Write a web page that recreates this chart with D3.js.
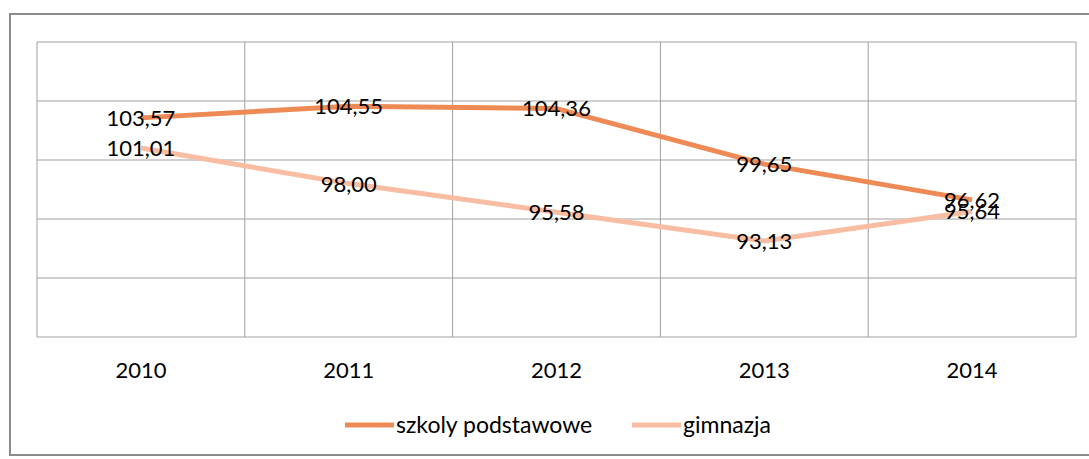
<!DOCTYPE html>
<html>
<head>
<meta charset="utf-8">
<script src="https://cdn.jsdelivr.net/npm/d3@7"></script>
<style>
  body { margin: 0; background: #fff; }
  svg { display: block; font-family: Lato, "Open Sans", sans-serif; }
</style>
</head>
<body>
<svg class="chart"></svg>
<script>
// values
const years = ['2010', '2011', '2012', '2013', '2014']
const szkolyPodstawowe = [103.57, 104.55, 104.36, 99.65, 96.62]
const gimnazja = [101.01, 98.00, 95.58, 93.13, 95.64]
const seriesNames = ['szkoly podstawowe', 'gimnazja']
const yTicks = [85, 90, 95, 100, 105, 110]

const W = 1089, H = 459
const plot = { left: 37, right: 1076, top: 42, bottom: 337 }
const colors = ['#ee8a55', '#f8bda2']

const svg = d3.select('svg.chart').attr('width', W).attr('height', H)

// outer chart frame
svg.append('rect')
    .attr('x', 10).attr('y', 14)
    .attr('width', W).attr('height', 441)
    .attr('fill', 'none')
    .attr('stroke', '#8c8c8c')
    .attr('stroke-width', 2)

const x = d3.scaleBand().domain(years).range([plot.left, plot.right])
const y = d3.scaleLinear().domain([85, 110]).range([plot.bottom, plot.top])

// horizontal grid
svg.append('g')
    .selectAll('line')
    .data(yTicks)
    .join('line')
    .attr('x1', plot.left).attr('x2', plot.right)
    .attr('y1', d => y(d)).attr('y2', d => y(d))
    .attr('stroke', '#a0a0a0')
    .attr('stroke-width', 1)

// vertical grid at category boundaries
const bounds = years.map(d => x(d)).concat([plot.right])
svg.append('g')
    .selectAll('line')
    .data(bounds)
    .join('line')
    .attr('x1', d => d).attr('x2', d => d)
    .attr('y1', plot.top).attr('y2', plot.bottom)
    .attr('stroke', '#a0a0a0')
    .attr('stroke-width', 1)

// category labels
svg.append('g')
    .selectAll('text')
    .data(years)
    .join('text')
    .attr('x', d => x(d) + x.bandwidth() / 2)
    .attr('y', 378)
    .attr('text-anchor', 'middle')
    .attr('font-size', 22)
    .attr('fill', '#000')
    .text(d => d)

const line = d3.line()
    .x((d, i) => x(years[i]) + x.bandwidth() / 2)
    .y(d => y(d))

const series = [szkolyPodstawowe, gimnazja]

// draw the light series first so the dark one sits on top
series.slice().reverse().forEach((vals, k) => {
    const idx = series.length - 1 - k
    svg.append('path')
        .datum(vals)
        .attr('fill', 'none')
        .attr('stroke', colors[idx])
        .attr('stroke-width', 5)
        .attr('stroke-linejoin', 'round')
        .attr('d', line)
})

const fmt = v => d3.format('.2f')(v).replace('.', ',')

series.forEach(vals => {
    svg.append('g')
        .selectAll('text')
        .data(vals)
        .join('text')
        .attr('x', (d, i) => x(years[i]) + x.bandwidth() / 2)
        .attr('y', d => y(d))
        .attr('dy', '0.36em')
        .attr('text-anchor', 'middle')
        .attr('font-size', 22)
        .attr('fill', '#000')
        .text(fmt)
})

// legend
const legendItems = [
    { name: seriesNames[0], x0: 345 },
    { name: seriesNames[1], x0: 632 }
]
const lg = svg.append('g')
legendItems.forEach((it, i) => {
    lg.append('line')
        .attr('x1', it.x0).attr('x2', it.x0 + 49)
        .attr('y1', 425).attr('y2', 425)
        .attr('stroke', colors[i])
        .attr('stroke-width', 5)
    lg.append('text')
        .attr('x', it.x0 + 51)
        .attr('y', 425)
        .attr('dy', '0.36em')
        .attr('font-size', 23)
        .attr('fill', '#000')
        .text(it.name)
})
</script>
</body>
</html>
